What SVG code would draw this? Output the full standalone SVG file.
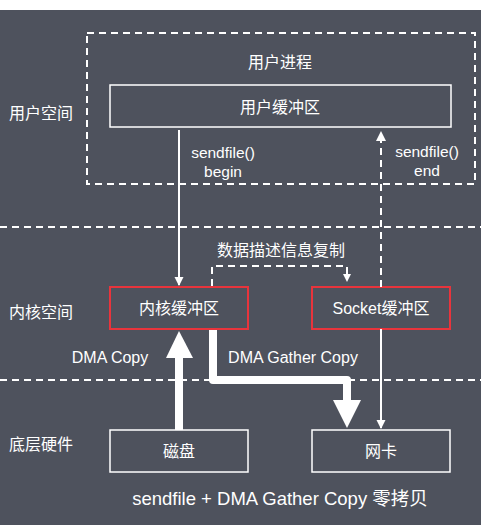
<svg xmlns="http://www.w3.org/2000/svg" width="481" height="525" viewBox="0 0 481 525">
<defs>
<style>
text{font-family:"Liberation Sans","Noto Sans CJK SC",sans-serif;fill:#ffffff;font-size:16px}
.c{text-anchor:middle}
.s{font-size:15.5px}
.cap{font-size:18.5px}
.box{fill:none;stroke:#ffffff;stroke-width:1.5}
.red{fill:none;stroke:#e8343c;stroke-width:2}
.dash{fill:none;stroke:#ffffff;stroke-width:2;stroke-dasharray:7,5}
.thin{fill:none;stroke:#ffffff;stroke-width:2}
.thick{fill:none;stroke:#ffffff;stroke-width:8;stroke-linejoin:round}
</style>
<marker id="ah" markerWidth="10" markerHeight="10" refX="8" refY="5" orient="auto" markerUnits="userSpaceOnUse"><path d="M0,0.5 L9,5 L0,9.5 Z" fill="#ffffff"/></marker>
</defs>
<rect x="0" y="0" width="481" height="525" fill="#ffffff"/>
<rect x="0" y="10" width="481" height="515" fill="#4e525d"/>
<g id="layers">
<line class="dash" x1="0" y1="227" x2="481" y2="227"/>
<line class="dash" x1="0" y1="380" x2="481" y2="380"/>
<text x="9" y="119">用户空间</text>
<text x="9" y="318">内核空间</text>
<text x="9" y="450">底层硬件</text>
</g>
<g id="user-process">
<rect class="dash" x="87" y="33" width="388" height="151"/>
<text class="c" x="280" y="68">用户进程</text>
</g>
<g id="user-buffer">
<rect class="box" x="110" y="85" width="341" height="42"/>
<text class="c" x="280" y="113">用户缓冲区</text>
</g>
<g id="kernel-buffer">
<rect class="red" x="110" y="287" width="138" height="42"/>
<text class="c" x="179" y="314">内核缓冲区</text>
</g>
<g id="socket-buffer">
<rect class="red" x="312" y="287" width="138" height="42"/>
<text class="c" x="381" y="314">Socket缓冲区</text>
</g>
<g id="disk">
<rect class="box" x="110" y="430" width="138" height="42"/>
<text class="c" x="179" y="457">磁盘</text>
</g>
<g id="nic">
<rect class="box" x="312" y="430" width="138" height="42"/>
<text class="c" x="381" y="457">网卡</text>
</g>
<g id="connectors">
<line class="thin" x1="179" y1="130" x2="179" y2="285" marker-end="url(#ah)"/>
<text class="c s" x="223" y="158">sendfile()</text>
<text class="c s" x="223" y="177">begin</text>
<line class="dash" x1="381" y1="287" x2="381" y2="134" stroke-width="2"/>
<path d="M376,141 L381,131 L386,141 Z" fill="#ffffff"/>
<text class="c s" x="427" y="157">sendfile()</text>
<text class="c s" x="427" y="176">end</text>
<line class="thin" x1="381" y1="329" x2="381" y2="428" marker-end="url(#ah)"/>
<path class="dash" d="M212,286 L212,266 L347,266 L347,276" stroke-width="1.5" stroke-dasharray="4,3"/>
<path d="M343,274 L347,282 L351,274 Z" fill="#ffffff"/>
<text class="c" x="281" y="256">数据描述信息复制</text>
<line class="thick" x1="179" y1="430" x2="179" y2="352"/>
<path d="M166,358 L179,331 L193,358 Z" fill="#ffffff"/>
<path class="thick" d="M213,330 L213,380 L347,380 L347,402"/>
<path d="M333,400 L347,428 L361,400 Z" fill="#ffffff"/>
<text class="c" x="110" y="363">DMA Copy</text>
<text class="c" x="293" y="363">DMA Gather Copy</text>
</g>
<text class="c cap" x="280" y="505">sendfile + DMA Gather Copy 零拷贝</text>
</svg>
